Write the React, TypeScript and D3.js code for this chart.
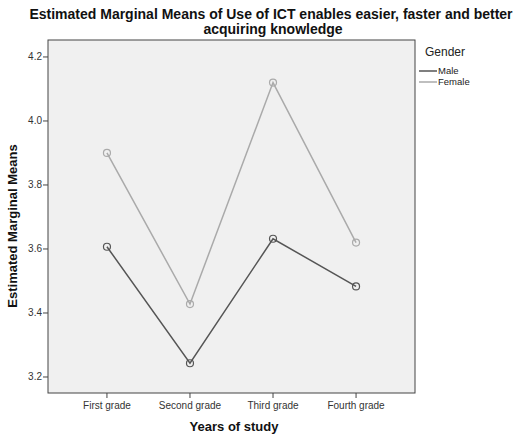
import React, { useRef, useEffect } from 'react';
import * as d3 from 'd3';

const grades = ['First grade', 'Second grade', 'Third grade', 'Fourth grade'];
const maleMeans = [3.607, 3.243, 3.632, 3.483];
const femaleMeans = [3.9, 3.428, 4.12, 3.62];
const yTicks = [3.2, 3.4, 3.6, 3.8, 4.0, 4.2];
const seriesNames = ['Male', 'Female'];
const seriesColors = ['#555555', '#aaaaaa'];

const App = () => {
  const svgRef = useRef<SVGSVGElement>(null);

  useEffect(() => {
    const svg = d3.select(svgRef.current);
    svg.selectAll('*').remove();

    const left = 48;
    const right = 415;
    const top = 40;
    const bottom = 393;
    const font = 'Arial, "Liberation Sans", sans-serif';

    const x = d3.scalePoint().domain(grades).range([left, right]).padding(0.71);
    const y = d3.scaleLinear().domain([3.15, 4.253]).range([bottom, top]);

    // plot area
    svg.append('rect')
      .attr('x', left).attr('y', top)
      .attr('width', right - left).attr('height', bottom - top)
      .style('fill', '#f0f0f0')
      .style('stroke', '#444')
      .style('stroke-width', 1);

    // title (two lines)
    const title = svg.append('text')
      .attr('text-anchor', 'middle')
      .style('font-family', font)
      .style('font-size', '14px')
      .style('font-weight', 'bold')
      .style('fill', '#111');
    title.append('tspan').attr('x', 271).attr('y', 19)
      .text('Estimated Marginal Means of Use of ICT enables easier, faster and better');
    title.append('tspan').attr('x', 273).attr('y', 33.5)
      .text('acquiring knowledge');

    // y axis
    yTicks.forEach((t) => {
      svg.append('line')
        .attr('x1', left - 5).attr('x2', left)
        .attr('y1', y(t)).attr('y2', y(t))
        .style('stroke', '#444');
      svg.append('text')
        .text(t.toFixed(1))
        .attr('x', left - 6)
        .attr('y', y(t))
        .attr('dy', '0.35em')
        .attr('text-anchor', 'end')
        .style('font-family', font)
        .style('font-size', '10px')
        .style('fill', '#333');
    });

    // x axis
    grades.forEach((g) => {
      svg.append('line')
        .attr('x1', x(g)).attr('x2', x(g))
        .attr('y1', bottom).attr('y2', bottom + 5)
        .style('stroke', '#444');
      svg.append('text')
        .text(g)
        .attr('x', x(g))
        .attr('y', bottom + 16)
        .attr('text-anchor', 'middle')
        .style('font-family', font)
        .style('font-size', '10px')
        .style('fill', '#333');
    });

    // axis titles
    svg.append('text')
      .text('Years of study')
      .attr('x', 234).attr('y', 431)
      .attr('text-anchor', 'middle')
      .style('font-family', font)
      .style('font-size', '13px')
      .style('font-weight', 'bold')
      .style('fill', '#111');

    svg.append('text')
      .text('Estimated Marginal Means')
      .attr('transform', 'translate(17,226) rotate(-90)')
      .attr('text-anchor', 'middle')
      .style('font-family', font)
      .style('font-size', '13px')
      .style('font-weight', 'bold')
      .style('fill', '#111');

    // lines + markers
    const line = d3.line<number>()
      .x((d, i) => x(grades[i]) as number)
      .y((d) => y(d));

    [maleMeans, femaleMeans].forEach((vals, si) => {
      svg.append('path')
        .attr('d', line(vals))
        .style('fill', 'none')
        .style('stroke', seriesColors[si])
        .style('stroke-width', 1.5);
      vals.forEach((v, i) => {
        svg.append('circle')
          .attr('cx', x(grades[i]) as number)
          .attr('cy', y(v))
          .attr('r', 3.5)
          .style('fill', 'none')
          .style('stroke', seriesColors[si])
          .style('stroke-width', 1.2);
      });
    });

    // legend
    svg.append('text')
      .text('Gender')
      .attr('x', 425).attr('y', 56)
      .style('font-family', font)
      .style('font-size', '12px')
      .style('fill', '#222');
    seriesNames.forEach((n, i) => {
      const ly = 71 + i * 11;
      svg.append('line')
        .attr('x1', 419).attr('x2', 437)
        .attr('y1', ly).attr('y2', ly)
        .style('stroke', seriesColors[i])
        .style('stroke-width', 1.5);
      svg.append('text')
        .text(n)
        .attr('x', 438).attr('y', ly)
        .attr('dy', '0.35em')
        .style('font-family', font)
        .style('font-size', '9.5px')
        .style('fill', '#222');
    });
  }, []);

  return (
    <svg ref={svgRef} width={524} height={435} style={{ position: 'absolute', left: 0, top: 0 }} />
  );
};

export default App;
